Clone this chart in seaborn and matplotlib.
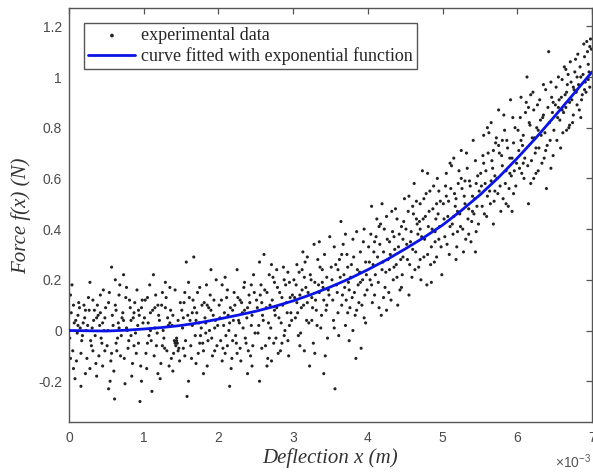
import matplotlib
matplotlib.use("Agg")
import matplotlib.pyplot as plt
import seaborn as sns
import pandas as pd

# Fitted exponential curve (x in 1e-3 m, force in N)
curve_x = [0, 0.25, 0.5, 0.75, 1.0, 1.25, 1.5, 1.75, 2.0, 2.25, 2.5, 2.75, 3.0, 3.25,
           3.5, 3.75, 4.0, 4.25, 4.5, 4.75, 5.0, 5.25, 5.5, 5.75, 6.0, 6.25, 6.5, 6.75, 7.0]
curve_y = [0.000, -0.001, -0.002, 0.001, 0.006, 0.012, 0.020, 0.031, 0.045, 0.060, 0.076,
           0.095, 0.117, 0.143, 0.172, 0.204, 0.240, 0.279, 0.322, 0.367, 0.416, 0.473,
           0.535, 0.604, 0.680, 0.760, 0.845, 0.932, 1.020]

# Experimental data points (x in 1e-3 m, force in N), grouped by x interval
pts_00 = [(0.02,0.14),(0.05,-0.08),(0.07,0.03),(0.10,-0.12),(0.12,0.06),(0.15,0.01),(0.17,-0.04),(0.20,0.10),(0.22,-0.17),(0.25,0.02),
          (0.27,0.08),(0.30,-0.06),(0.32,0.12),(0.35,-0.02),(0.37,0.05),(0.40,-0.10),(0.42,0.07),(0.45,-0.14),(0.47,0.00),(0.49,0.09),
          (0.01,-0.03),(0.04,0.18),(0.06,-0.15),(0.09,0.04),(0.11,-0.01),(0.14,0.09),(0.16,-0.09),(0.19,0.03),(0.21,0.05),(0.24,-0.11),
          (0.26,0.13),(0.29,-0.04),(0.31,0.01),(0.34,0.08),(0.36,-0.13),(0.39,0.06),(0.41,0.02),(0.44,-0.05),(0.46,0.16),(0.48,-0.08),
          (0.03,0.07),(0.08,-0.19),(0.13,0.11),(0.18,-0.02),(0.23,0.00),(0.28,-0.15),(0.33,0.04),(0.38,0.10),(0.43,-0.03),(0.48,0.05),
          (0.02,-0.11),(0.12,0.02),(0.22,0.08),(0.32,-0.08),(0.42,0.14),(0.16,-0.22),(0.28,0.19),(0.37,-0.18),(0.06,0.10),(0.45,0.03)]
pts_05 = [(0.51,-0.06),(0.53,0.11),(0.55,-0.20),(0.57,0.25),(0.59,0.02),(0.61,-0.27),(0.63,0.08),(0.65,-0.03),(0.67,0.14),(0.69,-0.10),
          (0.71,0.05),(0.73,0.22),(0.75,-0.21),(0.77,0.01),(0.79,-0.07),(0.81,0.12),(0.83,0.04),(0.85,-0.13),(0.87,0.07),(0.89,-0.01),
          (0.91,0.16),(0.93,-0.05),(0.95,-0.28),(0.97,0.09),(0.99,0.03),(0.52,0.00),(0.54,0.15),(0.56,-0.12),(0.58,0.06),(0.60,-0.16),
          (0.62,0.10),(0.64,-0.08),(0.66,0.03),(0.68,0.18),(0.70,-0.02),(0.72,0.07),(0.74,-0.11),(0.76,0.13),(0.78,0.00),(0.80,-0.04),
          (0.82,0.09),(0.84,-0.18),(0.86,0.05),(0.88,0.11),(0.90,-0.09),(0.92,0.02),(0.94,0.06),(0.96,-0.14),(0.98,0.12),(0.53,-0.23),
          (0.63,-0.05),(0.73,0.04),(0.83,-0.02),(0.93,0.08),(0.57,-0.09),(0.67,0.01),(0.77,0.17),(0.87,-0.06),(0.97,-0.20),(0.62,0.20)]
pts_10 = [(1.01,0.05),(1.03,-0.09),(1.05,0.13),(1.07,-0.02),(1.09,0.07),(1.11,-0.24),(1.13,0.22),(1.15,0.01),(1.17,-0.06),(1.19,0.10),
          (1.21,0.04),(1.23,-0.13),(1.25,0.15),(1.27,-0.03),(1.29,0.09),(1.31,-0.08),(1.33,0.02),(1.35,0.17),(1.37,-0.11),(1.39,0.06),
          (1.41,-0.04),(1.43,-0.06),(1.45,-0.05),(1.47,-0.07),(1.49,0.11),(1.02,0.12),(1.04,-0.15),(1.06,0.03),(1.08,0.18),(1.10,-0.04),
          (1.12,0.08),(1.14,-0.10),(1.16,0.14),(1.18,-0.01),(1.20,0.06),(1.22,-0.19),(1.24,0.10),(1.26,0.00),(1.28,-0.07),(1.30,0.13),
          (1.32,0.05),(1.34,-0.14),(1.36,0.08),(1.38,0.02),(1.40,-0.09),(1.42,0.16),(1.44,-0.04),(1.46,0.04),(1.48,-0.12),(1.44,-0.03),
          (1.46,-0.08),(1.42,-0.05),(1.05,-0.05),(1.15,0.09),(1.25,-0.06),(1.35,0.03),(1.19,-0.17),(1.29,0.19),(1.39,-0.16),(1.09,0.00)]
pts_15 = [(1.51,0.08),(1.53,-0.07),(1.55,0.15),(1.57,0.27),(1.58,-0.26),(1.60,-0.20),(1.62,0.04),(1.64,-0.11),(1.66,0.12),(1.67,0.29),
          (1.69,-0.02),(1.71,0.07),(1.73,-0.09),(1.75,0.17),(1.77,0.01),(1.79,-0.05),(1.81,0.11),(1.83,0.03),(1.85,-0.14),(1.87,0.09),
          (1.89,0.14),(1.91,-0.03),(1.93,0.06),(1.95,-0.08),(1.97,0.20),(1.99,0.02),(1.52,0.01),(1.54,0.11),(1.56,-0.04),(1.59,0.06),
          (1.61,0.13),(1.63,-0.06),(1.65,0.02),(1.68,0.09),(1.70,-0.13),(1.72,0.15),(1.74,0.03),(1.76,-0.02),(1.78,0.10),(1.80,-0.08),
          (1.82,0.05),(1.84,0.18),(1.86,-0.04),(1.88,0.00),(1.90,0.08),(1.92,-0.10),(1.94,0.12),(1.96,0.04),(1.98,-0.06),(1.55,-0.10),
          (1.65,0.07),(1.75,-0.05),(1.85,0.10),(1.95,0.01),(1.60,0.19),(1.70,0.04),(1.80,-0.17),(1.90,0.24),(1.53,0.05),(1.83,-0.01)]
pts_20 = [(2.01,0.10),(2.03,-0.04),(2.05,0.18),(2.07,0.02),(2.09,-0.09),(2.11,0.13),(2.13,0.06),(2.15,-0.22),(2.17,-0.15),(2.19,0.08),
          (2.21,0.15),(2.23,-0.02),(2.25,0.24),(2.27,0.04),(2.29,-0.07),(2.31,0.11),(2.33,0.01),(2.35,0.19),(2.37,-0.05),(2.39,0.09),
          (2.41,0.14),(2.43,-0.10),(2.45,0.06),(2.47,0.22),(2.49,-0.01),(2.02,0.05),(2.04,0.12),(2.06,-0.07),(2.08,0.07),(2.10,-0.02),
          (2.12,0.16),(2.14,0.00),(2.16,0.09),(2.18,-0.11),(2.20,0.04),(2.22,0.10),(2.24,-0.05),(2.26,0.13),(2.28,0.03),(2.30,-0.12),
          (2.32,0.07),(2.34,0.17),(2.36,-0.03),(2.38,0.05),(2.40,-0.08),(2.42,0.11),(2.44,0.02),(2.46,-0.06),(2.48,0.15),(2.05,-0.12),
          (2.15,0.03),(2.25,-0.09),(2.35,0.08),(2.45,-0.14),(2.09,0.21),(2.19,-0.04),(2.29,0.12),(2.39,-0.17),(2.12,-0.06),(2.44,0.18)]
pts_25 = [(2.51,0.12),(2.53,-0.01),(2.55,-0.20),(2.57,0.18),(2.59,0.06),(2.61,0.30),(2.63,-0.06),(2.65,0.15),(2.67,0.03),(2.69,0.10),
          (2.71,-0.12),(2.73,0.21),(2.75,0.08),(2.77,-0.03),(2.79,0.17),(2.81,0.05),(2.83,-0.08),(2.85,0.13),(2.87,0.25),(2.89,0.00),
          (2.91,0.11),(2.93,-0.04),(2.95,0.19),(2.97,0.07),(2.99,0.14),(2.52,0.09),(2.54,0.02),(2.56,0.14),(2.58,-0.07),(2.60,0.04),
          (2.62,0.16),(2.64,0.09),(2.66,-0.11),(2.68,0.22),(2.70,0.01),(2.72,0.12),(2.74,-0.05),(2.76,0.06),(2.78,0.24),(2.80,-0.09),
          (2.82,0.15),(2.84,0.03),(2.86,0.10),(2.88,-0.02),(2.90,0.18),(2.92,0.07),(2.94,-0.10),(2.96,0.13),(2.98,0.04),(2.55,0.27),
          (2.65,-0.14),(2.75,0.19),(2.85,-0.05),(2.95,0.02),(2.58,0.11),(2.68,-0.03),(2.78,0.09),(2.88,0.20),(2.71,0.26),(2.93,0.23)]
pts_30 = [(3.01,0.20),(3.03,0.05),(3.05,0.26),(3.07,-0.02),(3.09,0.14),(3.11,0.09),(3.13,0.31),(3.15,-0.08),(3.17,0.17),(3.19,0.11),
          (3.21,0.03),(3.23,0.22),(3.25,0.13),(3.27,-0.05),(3.29,0.19),(3.31,0.08),(3.33,0.28),(3.35,0.15),(3.37,0.01),(3.39,0.24),
          (3.41,0.12),(3.43,-0.10),(3.45,0.21),(3.47,0.16),(3.49,0.37),(3.02,0.13),(3.04,0.18),(3.06,0.07),(3.08,0.23),(3.10,-0.01),
          (3.12,0.16),(3.14,0.10),(3.16,0.27),(3.18,0.04),(3.20,0.15),(3.22,-0.14),(3.24,0.20),(3.26,0.09),(3.28,0.34),(3.30,0.12),
          (3.32,0.02),(3.34,0.18),(3.36,0.25),(3.38,0.06),(3.40,0.17),(3.42,0.30),(3.44,0.08),(3.46,-0.03),(3.48,0.14),(3.05,0.11),
          (3.15,0.21),(3.25,0.04),(3.35,0.35),(3.45,0.10),(3.09,-0.06),(3.19,0.29),(3.29,-0.09),(3.39,0.19),(3.12,0.24),(3.41,-0.17)]
pts_35 = [(3.51,0.25),(3.53,0.12),(3.55,0.33),(3.56,-0.23),(3.58,0.18),(3.60,0.07),(3.62,0.28),(3.64,0.43),(3.66,0.14),(3.68,0.22),
          (3.70,0.02),(3.72,0.30),(3.74,0.19),(3.76,0.09),(3.78,0.26),(3.80,0.36),(3.82,0.15),(3.84,-0.11),(3.86,0.24),(3.88,0.11),
          (3.90,0.31),(3.91,-0.07),(3.93,0.20),(3.95,0.05),(3.97,0.27),(3.99,0.16),(3.52,0.20),(3.54,0.04),(3.57,0.26),(3.59,0.15),
          (3.61,-0.02),(3.63,0.21),(3.65,0.10),(3.67,0.34),(3.69,0.17),(3.71,0.12),(3.73,0.25),(3.75,-0.04),(3.77,0.21),(3.79,0.13),
          (3.81,0.29),(3.83,0.06),(3.85,0.39),(3.87,0.18),(3.89,0.23),(3.92,0.10),(3.94,0.35),(3.96,0.14),(3.98,0.22),(3.55,0.01),
          (3.65,0.30),(3.75,0.16),(3.85,0.08),(3.95,0.40),(3.60,0.24),(3.70,0.38),(3.80,0.00),(3.90,0.19),(3.73,0.07),(3.97,0.03)]
pts_40 = [(4.01,0.33),(4.03,0.20),(4.05,0.49),(4.07,0.26),(4.09,0.14),(4.11,0.37),(4.13,0.29),(4.15,0.09),(4.17,0.42),(4.19,0.24),
          (4.21,0.31),(4.23,0.17),(4.25,0.45),(4.27,0.28),(4.29,0.35),(4.31,0.12),(4.33,0.39),(4.35,0.25),(4.37,0.48),(4.39,0.21),
          (4.41,0.33),(4.43,0.16),(4.45,0.41),(4.47,0.29),(4.49,0.52),(4.02,0.27),(4.04,0.38),(4.06,0.11),(4.08,0.31),(4.10,0.22),
          (4.12,0.44),(4.14,0.19),(4.16,0.34),(4.18,0.06),(4.20,0.27),(4.22,0.40),(4.24,0.23),(4.26,0.36),(4.28,0.15),(4.30,0.30),
          (4.32,0.47),(4.34,0.20),(4.36,0.32),(4.38,0.26),(4.40,0.10),(4.42,0.38),(4.44,0.28),(4.46,0.22),(4.48,0.43),(4.05,0.18),
          (4.15,0.41),(4.25,0.08),(4.35,0.37),(4.45,0.17),(4.09,0.35),(4.19,0.50),(4.29,0.24),(4.39,0.44),(4.21,0.13),(4.47,0.36)]
pts_45 = [(4.51,0.40),(4.53,0.28),(4.55,0.53),(4.57,0.35),(4.59,0.21),(4.61,0.46),(4.62,0.58),(4.64,0.31),(4.66,0.42),(4.68,0.25),
          (4.70,0.50),(4.72,0.37),(4.73,0.63),(4.75,0.29),(4.77,0.45),(4.79,0.18),(4.81,0.41),(4.83,0.55),(4.85,0.33),(4.87,0.48),
          (4.89,0.27),(4.91,0.44),(4.93,0.60),(4.95,0.36),(4.97,0.51),(4.99,0.22),(4.52,0.34),(4.54,0.47),(4.56,0.26),(4.58,0.39),
          (4.60,0.32),(4.63,0.24),(4.65,0.51),(4.67,0.38),(4.69,0.43),(4.71,0.20),(4.74,0.44),(4.76,0.36),(4.78,0.54),(4.80,0.30),
          (4.82,0.47),(4.84,0.26),(4.86,0.40),(4.88,0.57),(4.90,0.35),(4.92,0.29),(4.94,0.46),(4.96,0.41),(4.98,0.33),(4.55,0.14),
          (4.65,0.44),(4.75,0.52),(4.85,0.19),(4.95,0.55),(4.60,0.49),(4.70,0.28),(4.80,0.62),(4.90,0.39),(4.70,0.40),(4.92,0.50)]
pts_50 = [(5.01,0.50),(5.03,0.37),(5.05,0.62),(5.07,0.45),(5.09,0.30),(5.11,0.56),(5.13,0.42),(5.15,0.68),(5.17,0.49),(5.19,0.33),
          (5.21,0.58),(5.23,0.46),(5.25,0.71),(5.27,0.40),(5.29,0.53),(5.31,0.36),(5.33,0.64),(5.35,0.48),(5.37,0.57),(5.39,0.43),
          (5.41,0.75),(5.43,0.52),(5.45,0.39),(5.47,0.61),(5.49,0.55),(5.02,0.44),(5.04,0.57),(5.06,0.34),(5.08,0.51),(5.10,0.41),
          (5.12,0.65),(5.14,0.38),(5.16,0.54),(5.18,0.28),(5.20,0.47),(5.22,0.63),(5.24,0.41),(5.26,0.56),(5.28,0.31),(5.30,0.50),
          (5.32,0.70),(5.34,0.44),(5.36,0.59),(5.38,0.35),(5.40,0.53),(5.42,0.46),(5.44,0.67),(5.46,0.49),(5.48,0.42),(5.05,0.53),
          (5.15,0.45),(5.25,0.60),(5.35,0.38),(5.45,0.58),(5.10,0.66),(5.20,0.39),(5.30,0.59),(5.40,0.47),(5.18,0.52),(5.44,0.31)]
pts_55 = [(5.51,0.62),(5.53,0.49),(5.55,0.77),(5.57,0.58),(5.59,0.45),(5.61,0.70),(5.63,0.55),(5.65,0.82),(5.67,0.64),(5.69,0.51),
          (5.71,0.74),(5.73,0.60),(5.75,0.87),(5.77,0.57),(5.79,0.69),(5.81,0.52),(5.83,0.79),(5.85,0.63),(5.87,0.72),(5.89,0.56),
          (5.91,0.91),(5.93,0.68),(5.95,0.54),(5.97,0.80),(5.99,0.66),(5.52,0.57),(5.54,0.69),(5.56,0.46),(5.58,0.63),(5.60,0.53),
          (5.62,0.78),(5.64,0.50),(5.66,0.67),(5.68,0.42),(5.70,0.61),(5.72,0.76),(5.74,0.54),(5.76,0.70),(5.78,0.47),(5.80,0.65),
          (5.82,0.85),(5.84,0.58),(5.86,0.75),(5.88,0.49),(5.90,0.68),(5.92,0.61),(5.94,0.84),(5.96,0.63),(5.98,0.57),(5.55,0.66),
          (5.65,0.59),(5.75,0.73),(5.85,0.50),(5.95,0.74),(5.60,0.80),(5.70,0.55),(5.80,0.75),(5.90,0.62),(5.68,0.71),(5.93,0.47)]
pts_60 = [(6.01,0.79),(6.03,0.64),(6.05,0.92),(6.07,0.73),(6.09,0.60),(6.11,0.86),(6.13,1.00),(6.15,0.50),(6.17,0.81),(6.19,0.67),
          (6.21,0.94),(6.23,0.76),(6.25,0.62),(6.27,0.89),(6.29,0.72),(6.31,0.83),(6.33,0.66),(6.35,0.97),(6.37,0.78),(6.39,0.56),
          (6.41,0.88),(6.42,1.10),(6.44,0.75),(6.46,0.92),(6.48,0.69),(6.02,0.71),(6.04,0.84),(6.06,0.62),(6.08,0.77),(6.10,0.68),
          (6.12,0.90),(6.14,0.65),(6.16,0.82),(6.18,0.58),(6.20,0.76),(6.22,0.87),(6.24,0.70),(6.26,0.80),(6.28,0.63),(6.30,0.91),
          (6.32,0.77),(6.34,0.84),(6.36,0.68),(6.38,0.95),(6.40,0.73),(6.43,0.82),(6.45,0.64),(6.47,0.86),(6.49,0.79),(6.05,0.75),
          (6.15,0.88),(6.25,0.72),(6.35,0.85),(6.45,0.98),(6.08,0.66),(6.18,0.93),(6.28,0.79),(6.38,0.71),(6.22,0.60),(6.48,0.90)]
pts_65 = [(6.51,0.89),(6.53,0.75),(6.55,1.00),(6.57,0.83),(6.59,0.92),(6.61,0.78),(6.63,1.04),(6.65,0.88),(6.67,0.97),(6.69,0.80),
          (6.71,1.06),(6.73,0.91),(6.75,0.85),(6.77,1.02),(6.79,0.94),(6.81,1.09),(6.83,0.87),(6.85,1.00),(6.87,0.93),(6.89,1.13),
          (6.91,0.98),(6.93,1.14),(6.95,1.05),(6.97,0.96),(6.99,1.11),(6.52,0.96),(6.54,0.84),(6.56,0.91),(6.58,0.72),(6.60,0.99),
          (6.62,0.86),(6.64,0.93),(6.66,0.79),(6.68,1.01),(6.70,0.90),(6.72,0.98),(6.74,0.82),(6.76,0.95),(6.78,1.07),(6.80,0.89),
          (6.82,0.97),(6.84,1.04),(6.86,0.91),(6.88,1.01),(6.90,1.08),(6.92,0.94),(6.94,1.10),(6.96,1.02),(6.98,1.15),(6.55,0.88),
          (6.65,1.03),(6.75,0.96),(6.85,0.84),(6.95,0.99),(6.60,0.87),(6.70,0.81),(6.80,1.00),(6.90,0.95),(6.66,0.94),(6.97,1.12)]

x_ticks = [0, 1, 2, 3, 4, 5, 6, 7]
x_tick_labels = ["0", "1", "2", "3", "4", "5", "6", "7"]
y_ticks = [-0.2, 0, 0.2, 0.4, 0.6, 0.8, 1.0, 1.2]
y_tick_labels = ["-0.2", "0", "0.2", "0.4", "0.6", "0.8", "1", "1.2"]

all_pts = (pts_00 + pts_05 + pts_10 + pts_15 + pts_20 + pts_25 + pts_30 +
           pts_35 + pts_40 + pts_45 + pts_50 + pts_55 + pts_60 + pts_65)
df = pd.DataFrame(all_pts, columns=["x", "y"])
curve_df = pd.DataFrame({"x": curve_x, "y": curve_y})

sns.set_theme(style="white")
plt.rcParams['font.family'] = ['Liberation Sans', 'DejaVu Sans']
plt.rcParams['mathtext.fontset'] = 'custom'
plt.rcParams['mathtext.rm'] = 'Liberation Sans'
plt.rcParams['mathtext.it'] = 'Liberation Sans:italic'

fig = plt.figure(figsize=(5.93, 4.75), dpi=100)
ax = fig.add_axes([69 / 593, 52.7 / 475, 523 / 593, 414 / 475])

sns.scatterplot(data=df, x="x", y="y", s=5, color="#222222", edgecolor="none",
                linewidth=0, ax=ax, label="experimental data", zorder=2)
sns.lineplot(data=curve_df, x="x", y="y", color="#0a14e6", linewidth=2.0, ax=ax,
             label="curve fitted with exponential function", zorder=3)

ax.set_xlim(0, 7)
ax.set_ylim(-0.362, 1.271)
ax.set_xticks(x_ticks)
ax.set_xticklabels(x_tick_labels)
ax.set_yticks(y_ticks)
ax.set_yticklabels(y_tick_labels)
ax.tick_params(axis="both", direction="in", length=4, width=0.9, color="#555555",
               top=True, right=True, labelsize=10, labelcolor="#4a4a4a")
ax.tick_params(axis="x", pad=6)
ax.tick_params(axis="y", pad=5)
for sp in ax.spines.values():
    sp.set_visible(True)
    sp.set_color("#555555")
    sp.set_linewidth(1.0)

ax.set_xlabel("Deflection x (m)", fontfamily="Liberation Serif", fontstyle="italic",
              fontsize=15, color="#333333")
ax.xaxis.set_label_coords(0.5, -0.062)
ax.set_ylabel("Force f(x) (N)", fontfamily="Liberation Serif", fontstyle="italic",
              fontsize=15, color="#333333")
ax.yaxis.set_label_coords(-0.0725, 0.5)

leg = ax.legend(loc="upper left", bbox_to_anchor=(0.0286, 0.965), borderaxespad=0,
                prop={"family": "Liberation Serif", "size": 13}, frameon=True,
                fancybox=False, edgecolor="#555555", framealpha=1,
                handlelength=2.6, handletextpad=0.3, labelspacing=0.15,
                borderpad=0.25, markerscale=1.2)
leg.get_frame().set_linewidth(1.0)

fig.text(555 / 593, 13 / 475, r"$\times10^{-3}$", fontsize=10, color="#555555",
         ha="left", va="center")

fig.savefig("out.png", dpi=100)
